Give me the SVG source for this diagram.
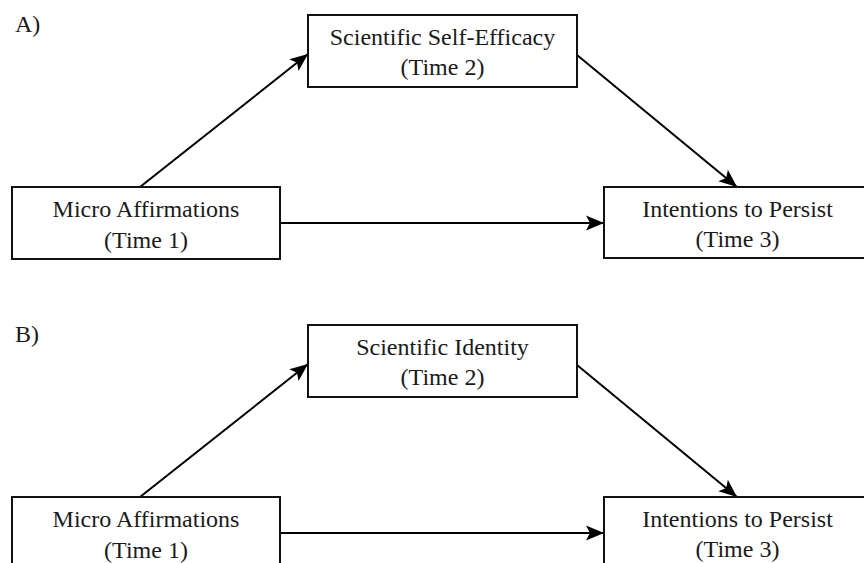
<svg xmlns="http://www.w3.org/2000/svg" width="864" height="563" viewBox="0 0 864 563">
<style>
.box{fill:#fff;stroke:#111;stroke-width:2}
.t{font-family:"Liberation Serif","Times New Roman",serif;font-size:24px;fill:#1a1a1a;text-anchor:middle}
.lab{font-family:"Liberation Serif","Times New Roman",serif;font-size:24px;fill:#1a1a1a}
.c{stroke:#000;stroke-width:2;fill:none;marker-end:url(#ah)}
</style>
<defs>
<marker id="ah" markerUnits="userSpaceOnUse" markerWidth="20" markerHeight="16" refX="18" refY="7.5" orient="auto" overflow="visible">
<path d="M0,0 L18,7.5 L0,15 L4,7.5 z" fill="#000"/>
</marker>
</defs>
<rect width="864" height="563" fill="#fff"/>
<text class="lab" x="15" y="32">A)</text>
<text class="lab" x="15" y="342">B)</text>
<g id="connectors">
<line class="c" x1="140" y1="187" x2="308" y2="54"/>
<line class="c" x1="577" y1="55" x2="737" y2="187"/>
<line class="c" x1="280" y1="223" x2="604" y2="223"/>
<line class="c" x1="140" y1="497" x2="308" y2="364"/>
<line class="c" x1="577" y1="365" x2="737" y2="497"/>
<line class="c" x1="280" y1="533" x2="604" y2="533"/>
</g>
<g id="a-mid">
<rect class="box" x="308" y="15" width="269" height="72"/>
<text class="t" x="442.5" y="45">Scientific Self-Efficacy</text>
<text class="t" x="442.5" y="75">(Time 2)</text>
</g>
<g id="a-left">
<rect class="box" x="12" y="187" width="268" height="72"/>
<text class="t" x="146" y="217">Micro Affirmations</text>
<text class="t" x="146" y="248">(Time 1)</text>
</g>
<g id="a-right">
<rect class="box" x="604" y="187" width="268" height="71"/>
<text class="t" x="737.5" y="217">Intentions to Persist</text>
<text class="t" x="737.5" y="247">(Time 3)</text>
</g>
<g id="b-mid">
<rect class="box" x="308" y="325" width="269" height="72"/>
<text class="t" x="442.5" y="355">Scientific Identity</text>
<text class="t" x="442.5" y="385">(Time 2)</text>
</g>
<g id="b-left">
<rect class="box" x="12" y="497" width="268" height="72"/>
<text class="t" x="146" y="527">Micro Affirmations</text>
<text class="t" x="146" y="558">(Time 1)</text>
</g>
<g id="b-right">
<rect class="box" x="604" y="497" width="268" height="72"/>
<text class="t" x="737.5" y="527">Intentions to Persist</text>
<text class="t" x="737.5" y="557">(Time 3)</text>
</g>
</svg>
